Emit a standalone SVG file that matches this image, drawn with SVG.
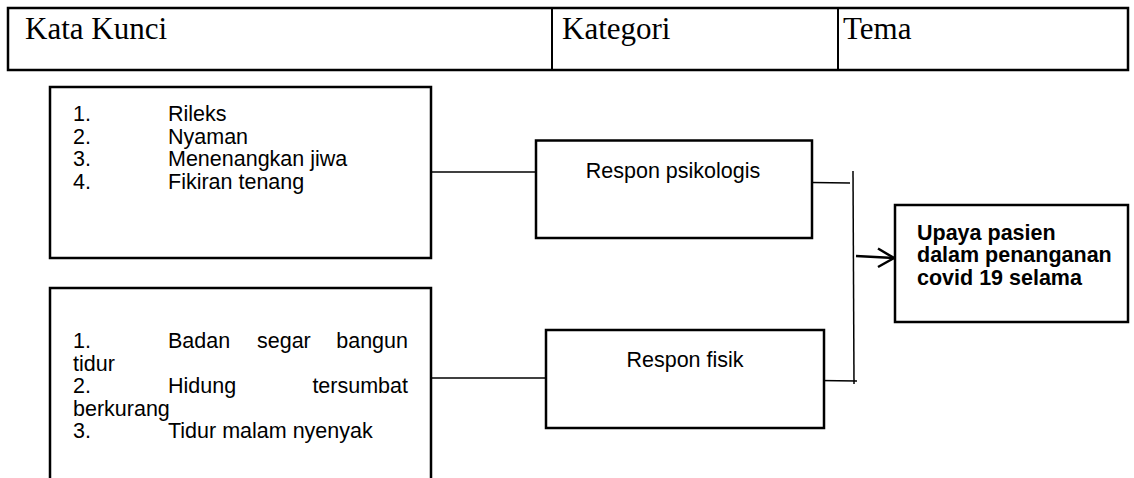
<svg xmlns="http://www.w3.org/2000/svg" width="1134" height="478" viewBox="0 0 1134 478">
<style>
.box{fill:#fff;stroke:#000;stroke-width:2.5}
.hdr{font-family:"Liberation Serif","Times New Roman",serif;font-size:31px;fill:#000}
.t{font-family:"Liberation Sans",Arial,sans-serif;font-size:21.5px;fill:#000}
.b{font-family:"Liberation Sans",Arial,sans-serif;font-size:21.5px;font-weight:bold;fill:#000}
.c{fill:none;stroke:#000;stroke-width:1.5}
</style>
<g id="header">
<rect x="8" y="8" width="1120" height="62" fill="#fff" stroke="#000" stroke-width="2.5"/>
<line x1="552" y1="8" x2="552" y2="70" stroke="#000" stroke-width="2"/>
<line x1="838" y1="8" x2="838" y2="70" stroke="#000" stroke-width="2"/>
<text class="hdr" x="25" y="39">Kata Kunci</text>
<text class="hdr" x="562" y="39">Kategori</text>
<text class="hdr" x="843" y="39">Tema</text>
</g>
<g id="connectors">
<line class="c" x1="431" y1="172" x2="536" y2="172"/>
<line class="c" x1="431" y1="378" x2="546" y2="378"/>
<line class="c" x1="812" y1="182.5" x2="850" y2="183"/>
<line class="c" x1="853" y1="171" x2="854" y2="384"/>
<line class="c" x1="819" y1="380.5" x2="857" y2="381"/>
<line x1="856" y1="256" x2="894" y2="258" stroke="#000" stroke-width="2.5"/>
<polyline points="878,248.5 894,258 878,267" fill="none" stroke="#000" stroke-width="2.5"/>
</g>
<g id="kata-kunci-1">
<rect class="box" x="50" y="87" width="381" height="171"/>
<text class="t" x="73" y="121">1.</text><text class="t" x="168" y="121">Rileks</text>
<text class="t" x="73" y="143.7">2.</text><text class="t" x="168" y="143.7">Nyaman</text>
<text class="t" x="73" y="166.4">3.</text><text class="t" x="168" y="166.4">Menenangkan jiwa</text>
<text class="t" x="73" y="189.1">4.</text><text class="t" x="168" y="189.1">Fikiran tenang</text>
</g>
<g id="kata-kunci-2">
<path d="M50,480 V288 H431 V480" fill="#fff" stroke="#000" stroke-width="2.5"/>
<text class="t" x="73" y="348">1.</text><text class="t" x="168" y="348">Badan</text><text class="t" x="257" y="348">segar</text><text class="t" x="408" y="348" text-anchor="end">bangun</text>
<text class="t" x="73" y="370.5">tidur</text>
<text class="t" x="73" y="393">2.</text><text class="t" x="168" y="393">Hidung</text><text class="t" x="408" y="393" text-anchor="end">tersumbat</text>
<text class="t" x="73" y="415.5">berkurang</text>
<text class="t" x="73" y="438">3.</text><text class="t" x="168" y="438">Tidur malam nyenyak</text>
</g>
<g id="respon-psikologis">
<rect class="box" x="536" y="140.5" width="276" height="97.5"/>
<text class="t" x="673" y="178" text-anchor="middle">Respon psikologis</text>
</g>
<g id="respon-fisik">
<rect class="box" x="546" y="330" width="278" height="98"/>
<text class="t" x="685" y="367" text-anchor="middle">Respon fisik</text>
</g>
<g id="tema">
<rect class="box" x="895" y="205" width="233" height="117"/>
<text class="b" x="917" y="239.5">Upaya pasien</text>
<text class="b" x="917" y="262">dalam penanganan</text>
<text class="b" x="917" y="284.5">covid 19 selama</text>
</g>
</svg>
